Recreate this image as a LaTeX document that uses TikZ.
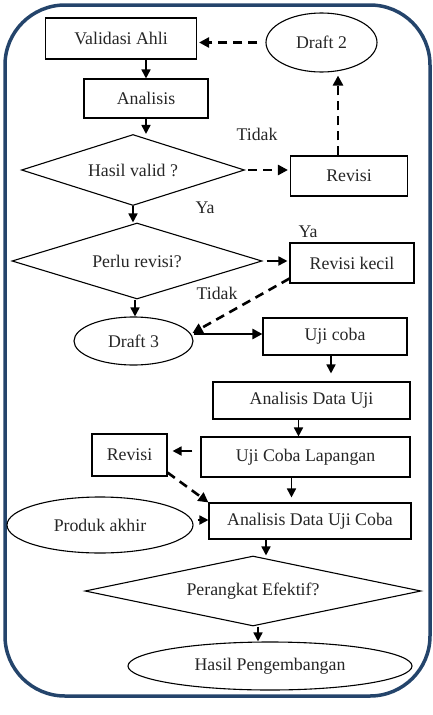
\documentclass[tikz,border=0pt]{standalone}
\usepackage{fontspec}
\setmainfont{Liberation Serif}
\usetikzlibrary{shapes.geometric,arrows.meta,calc}
\definecolor{frame}{HTML}{24446B}
\begin{document}
\begin{tikzpicture}[x=1pt,y=-1pt,
  every node/.style={font=\fontsize{17.8}{21}\selectfont, text=black!85},
  box/.style={draw, line width=1.1pt, inner sep=0pt},
  oval/.style={draw, ellipse, line width=1.1pt, inner sep=0pt},
  dia/.style={draw, diamond, line width=1.1pt, inner sep=0pt},
  lab/.style={inner sep=0pt},
  arr/.style={line width=1.7pt, -{Triangle[length=9pt,width=9pt]}},
  darr/.style={line width=2.6pt, dash pattern=on 9pt off 6pt, -{Triangle[length=10pt,width=10pt]}},
  tarr/.style={line width=2.6pt, -{Triangle[length=10pt,width=10pt]}}]
\useasboundingbox (0,0) rectangle (433,715);
\draw[frame, line width=3.5pt, rounded corners=60pt] (5,5) rectangle (430,696);

\node[box, minimum width=151pt, minimum height=41pt] (val) at (121,38.5) {Validasi Ahli};
\node[oval, minimum width=111pt, minimum height=59pt] (dr2) at (321.5,42.5) {Draft 2};
\node[box, minimum width=124pt, minimum height=39pt] (ana) at (146,98.5) {Analisis};
\node[dia, minimum width=223pt, minimum height=71pt, aspect=3.1] (d1) at (133,170) {Hasil valid ?};
\node[box, minimum width=117pt, minimum height=40pt] (rev1) at (349,176) {Revisi};
\node[dia, minimum width=250pt, minimum height=76pt, aspect=3.3] (d2) at (137,261) {Perlu revisi?};
\node[box, minimum width=124pt, minimum height=40pt] (rk) at (352,263) {Revisi kecil};
\node[oval, minimum width=119pt, minimum height=48pt] (dr3) at (133.5,341) {Draft 3};
\node[box, minimum width=144pt, minimum height=37pt] (uc) at (335,336.5) {Uji coba};
\node[box, minimum width=197pt, minimum height=37pt] (adu) at (311.5,400.5) {Analisis Data Uji};
\node[box, minimum width=209pt, minimum height=40pt] (ucl) at (305.5,457) {Uji Coba Lapangan};
\node[box, minimum width=75pt, minimum height=42pt] (rev2) at (129.5,455) {Revisi};
\node[box, minimum width=202pt, minimum height=36pt] (aduc) at (310,521) {Analisis Data Uji Coba};
\node[oval, minimum width=186pt, minimum height=56pt] (pa) at (100,525) {Produk akhir};
\node[dia, minimum width=336pt, minimum height=70pt, aspect=4.8] (d3) at (253,591) {Perangkat Efektif?};
\node[oval, minimum width=284pt, minimum height=48pt] (hp) at (270,666) {Hasil Pengembangan};

\node[lab] (t1) at (257,134) {Tidak};
\node[lab] (y1) at (205,208) {Ya};
\node[lab] (y2) at (308,232) {Ya};
\node[lab] (t2) at (217,293) {Tidak};

% connectors
\draw[darr] ([xshift=-8pt]dr2.west) -- ([xshift=2pt]val.east |- dr2.west);
\draw[arr] (ana.north |- val.south) -- (ana.north);
\draw[arr] (ana.south) -- (ana.south |- d1.north);
\draw[darr] ([xshift=3pt]d1.east) -- ([xshift=-2pt]d1.east -| rev1.west);
\draw[darr] ([xshift=-11pt]rev1.north) -- ([xshift=-11pt,yshift=-3pt]rev1.north |- dr2.south);
\draw[arr] (d1.south) -- (d1.south |- d2.north);
\draw[arr] ([xshift=4pt]d2.east) -- ([xshift=-2pt]d2.east -| rk.west);
\draw[darr] ([yshift=5pt]rk.south west) -- ([xshift=-1pt,yshift=8pt]dr3.east);
\draw[arr] ([xshift=-2pt]d2.south) -- ([xshift=-2pt]d2.south |- dr3.north);
\draw[tarr] ([yshift=7pt]dr3.east) -- ([yshift=7pt]dr3.east -| uc.west);
\draw[arr] ([xshift=-4pt]uc.south) -- ([xshift=-4pt,yshift=8pt]uc.south |- adu.north);
\draw[arr] ([xshift=-13pt]adu.south) -- ([xshift=-13pt]adu.south |- ucl.north);
\draw[arr] ([xshift=-8pt,yshift=6pt]ucl.west) -- ([xshift=5pt,yshift=6pt]ucl.west -| rev2.east);
\draw[darr] ([yshift=4pt]rev2.south east) -- (aduc.north west);
\draw[arr] ([xshift=-14pt]ucl.south) -- ([xshift=-14pt,yshift=5pt]ucl.south |- aduc.north);
\draw[arr] ([xshift=4pt,yshift=5pt]pa.east) -- ([yshift=1pt]aduc.west);
\draw[arr] ([xshift=-44pt]aduc.south) -- ([xshift=-44pt]aduc.south |- d3.north);
\draw[arr] ([xshift=5pt]d3.south) -- ([xshift=5pt]d3.south |- hp.north);
\end{tikzpicture}
\end{document}
